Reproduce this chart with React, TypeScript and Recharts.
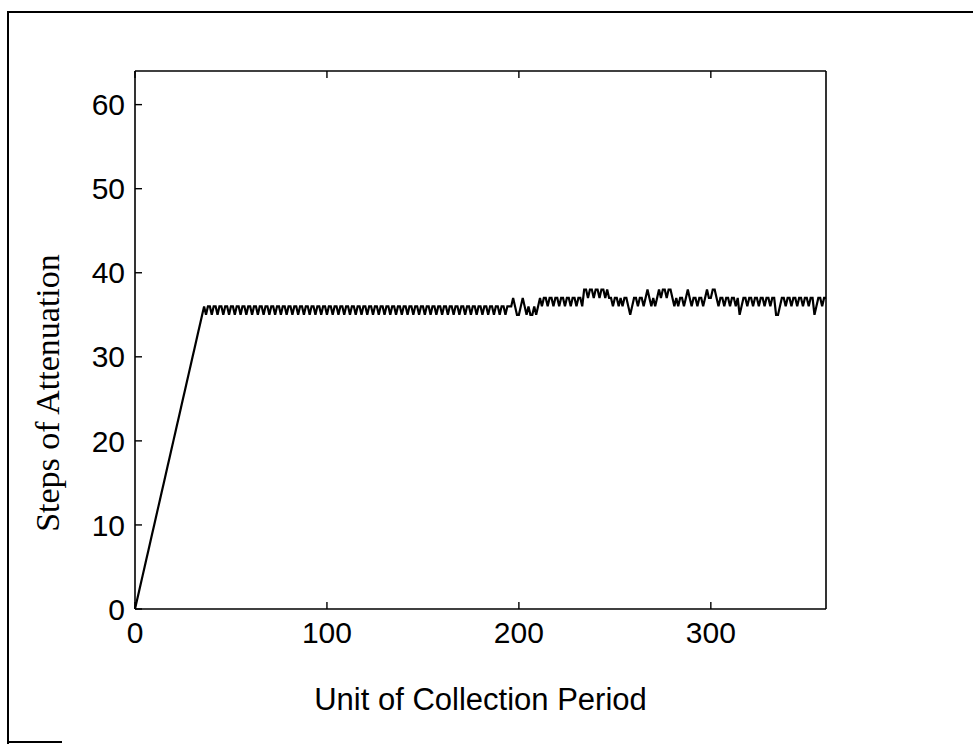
import { Label, Line, LineChart, XAxis, YAxis } from 'recharts'

// x = unit of collection period (0..360), y = steps of attenuation
const rampSteps = [
  0, 1, 2, 3, 4, 5, 6, 7, 8, 9, 10, 11, 12, 13, 14, 15, 16, 17, 18, 19,
  20, 21, 22, 23, 24, 25, 26, 27, 28, 29, 30, 31, 32, 33, 34, 35, 36,
]

const plateauSteps = [
  35, 36, 36, 35, 36, 36, 35, 36, 36, 35, 36, 36, 35, 36, 36, 35, 36, 36, 35, 36, 36, 35, 36, 36,
  35, 36, 36, 35, 36, 36, 35, 36, 36, 35, 36, 36, 35, 36, 36, 35, 36, 36, 35, 36, 36, 35, 36, 36,
  35, 36, 36, 35, 36, 36, 35, 36, 36, 35, 36, 36, 35, 36, 36, 35, 36, 36, 35, 36, 36, 35, 36, 36,
  35, 36, 36, 35, 36, 36, 35, 36, 36, 35, 36, 36, 35, 36, 36, 35, 36, 36, 35, 36, 36, 35, 36, 36,
  35, 36, 36, 35, 36, 36, 35, 36, 36, 35, 36, 36, 35, 36, 36, 35, 36, 36, 35, 36, 36, 35, 36, 36,
  35, 36, 36, 35, 36, 36, 35, 36, 36, 35, 36, 36, 35, 36, 36, 35, 36, 36, 35, 36, 36, 35, 36, 36,
  35, 36, 36, 35, 36, 36, 35, 36, 36, 35, 36, 36, 35, 36, 36,
]

const transitionSteps = [
  36, 37, 36, 35, 35, 36, 37, 36, 35, 36, 35, 35, 36, 35, 36, 37, 36,
  37, 37, 36, 37, 37, 36, 37, 37, 36, 37, 37, 36, 37, 37, 36, 37, 37, 36, 37, 37, 36,
]

const driftSteps = [
  38, 38, 37, 38, 38, 37, 38, 38, 37, 38, 38, 37, 38, 37,
  37, 36, 37, 37, 36, 37, 36, 37, 37, 36, 35,
  36, 37, 37, 36, 37, 37, 36, 37, 38,
  37, 36, 37, 36, 37,
  38, 37, 38, 38, 37, 38, 38, 37,
  36, 37, 36, 37, 37, 36, 37, 38,
  37, 36, 37, 37, 36, 37, 37, 36, 37,
  38, 37, 37, 38, 38, 37,
  36, 37, 37, 36, 37, 37, 36, 37, 37, 36, 37, 35,
  36, 37, 37, 36, 37, 37, 36, 37, 37, 36, 37, 37, 36, 37, 37, 36, 37, 37, 35, 35,
  36, 37, 37, 36, 37, 37, 36, 37, 37, 36, 37, 37, 36, 37, 37, 36, 37, 37, 35,
  36, 37, 37, 36, 37, 37,
]

const xTicks = [0, 100, 200, 300]
const yTicks = [0, 10, 20, 30, 40, 50, 60]

const steps = [...rampSteps, ...plateauSteps, ...transitionSteps, ...driftSteps]
const data = steps.map((v, i) => ({ period: i, steps: v }))

const sans = '"Liberation Sans", Arial, sans-serif'
const serif = '"Liberation Serif", "Times New Roman", serif'
const axisLine = { stroke: '#000', strokeWidth: 1.6 }
const tickLine = { stroke: '#000', strokeWidth: 1.4 }
const tickText = { fill: '#000', fontSize: 30, fontFamily: sans }
const noTick = () => <g />

function YTitle({ viewBox }: any) {
  const cx = viewBox.x + 47
  const cy = viewBox.y + viewBox.height / 2 + 53
  return (
    <text
      x={cx}
      y={cy}
      transform={`rotate(-90 ${cx} ${cy})`}
      textAnchor="middle"
      dominantBaseline="central"
      fill="#000"
      fontSize={34}
      fontFamily={serif}
    >
      Steps of Attenuation
    </text>
  )
}

export default function App() {
  return (
    <div style={{ position: 'absolute', left: 0, top: 0, width: 973, height: 752, background: '#fff' }}>
      <div style={{ position: 'absolute', left: 7, top: 11, width: 966, height: 731, borderTop: '2px solid #000', borderLeft: '2px solid #000' }} />
      <div style={{ position: 'absolute', left: 7, top: 741, width: 55, height: 0, borderTop: '2px solid #000' }} />
      <div style={{ position: 'absolute', left: 0, top: 0 }}>
        <LineChart width={973} height={752} data={data} margin={{ top: 0, right: 0, bottom: 0, left: 0 }}>
          <XAxis
            xAxisId="b"
            dataKey="period"
            type="number"
            domain={[0, 360]}
            ticks={xTicks}
            height={143}
            axisLine={axisLine}
            tickLine={tickLine}
            tickSize={-7}
            tickMargin={20}
            tick={tickText}
          >
            <Label value="Unit of Collection Period" position="insideTop" offset={79} fill="#000" fontSize={31} fontFamily={sans} />
          </XAxis>
          <XAxis
            xAxisId="t"
            orientation="top"
            type="number"
            domain={[0, 360]}
            ticks={xTicks}
            height={71}
            axisLine={axisLine}
            tickLine={tickLine}
            tickSize={-7}
            tick={noTick}
          />
          <YAxis
            yAxisId="l"
            type="number"
            domain={[0, 64]}
            ticks={yTicks}
            width={135}
            axisLine={axisLine}
            tickLine={tickLine}
            tickSize={-7}
            tickMargin={17}
            tick={tickText}
          >
            <Label content={YTitle} />
          </YAxis>
          <YAxis
            yAxisId="r"
            orientation="right"
            type="number"
            domain={[0, 64]}
            ticks={yTicks}
            width={147}
            axisLine={axisLine}
            tickLine={tickLine}
            tickSize={-7}
            tick={noTick}
          />
          <Line
            xAxisId="b"
            yAxisId="l"
            type="linear"
            dataKey="steps"
            stroke="#000"
            strokeWidth={2.2}
            dot={false}
            isAnimationActive={false}
          />
        </LineChart>
      </div>
    </div>
  )
}
